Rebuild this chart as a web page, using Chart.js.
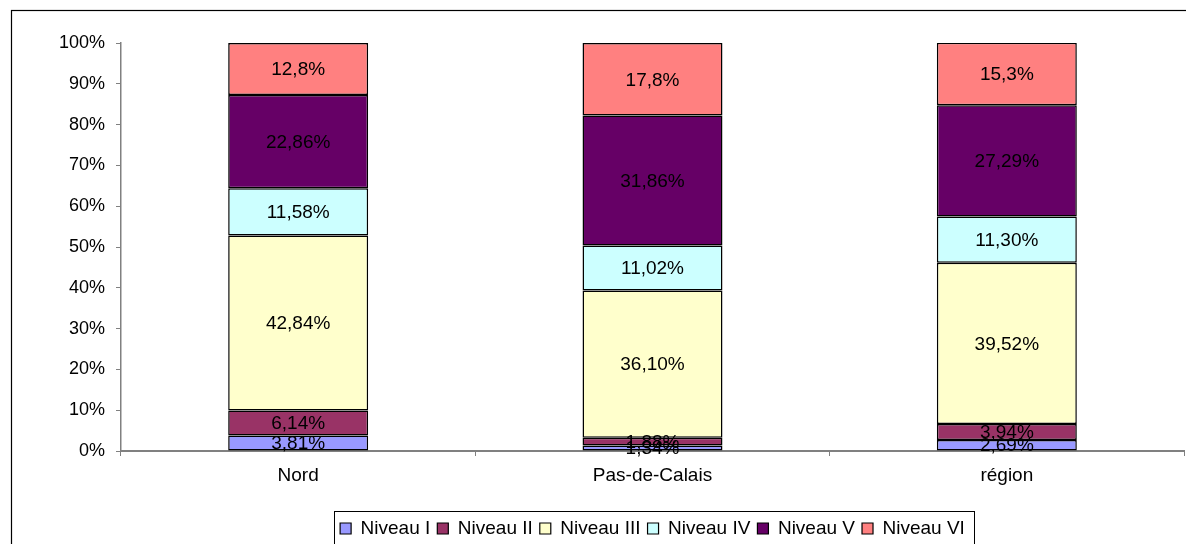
<!DOCTYPE html>
<html>
<head>
<meta charset="utf-8">
<script src="https://cdn.jsdelivr.net/npm/chart.js@4/dist/chart.umd.min.js"></script>
<style>
  html, body { margin: 0; padding: 0; background: #fff; }
  #wrap { width: 1186px; height: 544px; }
</style>
</head>
<body>
<div id="wrap"><canvas id="chart" width="1186" height="544"></canvas></div>
<script>
var categories = ['Nord', 'Pas-de-Calais', 'région'];

var niveauI = [3.81, 1.34, 2.69];
var niveauII = [6.14, 1.88, 3.94];
var niveauIII = [42.84, 36.10, 39.52];
var niveauIV = [11.58, 11.02, 11.30];
var niveauV = [22.86, 31.86, 27.29];
var niveauVI = [12.8, 17.8, 15.3];

var seriesNames = ['Niveau I', 'Niveau II', 'Niveau III', 'Niveau IV', 'Niveau V', 'Niveau VI'];
var seriesDecimals = [2, 2, 2, 2, 2, 1];
var seriesColors = ['#9999FF', '#993366', '#FFFFCC', '#CCFFFF', '#660066', '#FF8080'];

var yTicks = [0, 10, 20, 30, 40, 50, 60, 70, 80, 90, 100];

var FONT = 'Arial, "Liberation Sans", sans-serif';

var seriesData = [niveauI, niveauII, niveauIII, niveauIV, niveauV, niveauVI];
var datasets = seriesData.map(function(d, i) {
  return {
    label: seriesNames[i],
    data: d,
    backgroundColor: seriesColors[i],
    borderColor: '#000',
    borderWidth: 1.5,
    borderSkipped: false,
    barPercentage: 0.395,
    categoryPercentage: 1
  };
});

// frame around whole chart + box around legend
var framePlugin = {
  id: 'frame',
  beforeDraw: function(chart) {
    var ctx = chart.ctx;
    ctx.save();
    ctx.fillStyle = '#fff';
    ctx.fillRect(0, 0, chart.width, chart.height);
    ctx.strokeStyle = '#000';
    ctx.lineWidth = 1.2;
    ctx.strokeRect(11.5, 10.5, chart.width + 20, chart.height + 20);
    ctx.restore();
  },
  afterDraw: function(chart) {
    var boxes = chart.legend.legendHitBoxes;
    if (!boxes || !boxes.length) return;
    var last = boxes[boxes.length - 1];
    var l = Math.round(boxes[0].left) - 6;
    var r = Math.round(last.left + last.width) + 9;
    var ctx = chart.ctx;
    ctx.save();
    ctx.strokeStyle = '#000';
    ctx.lineWidth = 1;
    ctx.strokeRect(l + 0.5, 511.5, r - l, 60);
    ctx.restore();
  }
};

var labelPlugin = {
  id: 'barLabels',
  afterDatasetsDraw: function(chart) {
    var ctx = chart.ctx;
    ctx.save();
    ctx.font = '19px ' + FONT;
    ctx.fillStyle = '#000';
    ctx.textAlign = 'center';
    ctx.textBaseline = 'middle';
    chart.data.datasets.forEach(function(ds, i) {
      var meta = chart.getDatasetMeta(i);
      meta.data.forEach(function(bar, j) {
        var txt = ds.data[j].toFixed(seriesDecimals[i]).replace('.', ',') + '%';
        ctx.fillText(txt, bar.x, (bar.y + bar.base) / 2 + 1);
      });
    });
    ctx.restore();
  }
};

new Chart(document.getElementById('chart').getContext('2d'), {
  type: 'bar',
  data: { labels: categories, datasets: datasets },
  plugins: [framePlugin, labelPlugin],
  options: {
    responsive: false,
    animation: false,
    layout: { padding: { top: 43, right: 2, left: 0, bottom: -4 } },
    plugins: {
      tooltip: { enabled: false },
      legend: {
        position: 'bottom',
        fullSize: false,
        labels: {
          color: '#000',
          font: { family: FONT, size: 19 },
          boxWidth: 11,
          boxHeight: 11,
          padding: 7,
          generateLabels: function(chart) {
            return chart.data.datasets.map(function(ds, i) {
              return {
                text: ds.label,
                fillStyle: ds.backgroundColor,
                strokeStyle: '#000',
                lineWidth: 1.2,
                datasetIndex: i
              };
            });
          }
        }
      }
    },
    scales: {
      x: {
        stacked: true,
        grid: { drawOnChartArea: false, offset: true, tickLength: 5, color: '#808080' },
        border: { color: '#808080', width: 2 },
        ticks: { color: '#000', font: { family: FONT, size: 19 }, padding: 8 },
        afterFit: function(scale) { scale.height = 61; }
      },
      y: {
        stacked: true,
        min: 0,
        max: 100,
        afterBuildTicks: function(scale) {
          scale.ticks = yTicks.map(function(v) { return { value: v }; });
        },
        grid: { drawOnChartArea: false, tickLength: 5, color: '#808080' },
        border: { color: '#808080', width: 1.5 },
        ticks: {
          color: '#000',
          font: { family: FONT, size: 18 },
          padding: 11,
          callback: function(v) { return v + '%'; }
        },
        afterFit: function(scale) { scale.width = 121; }
      }
    }
  }
});
</script>
</body>
</html>
